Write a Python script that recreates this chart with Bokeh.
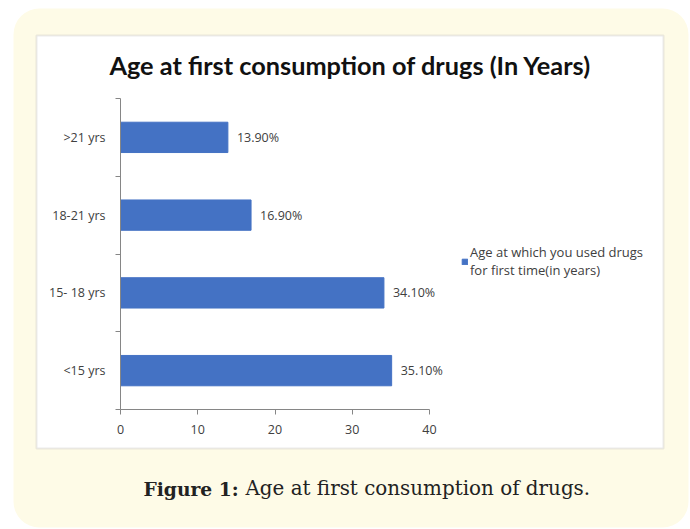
from bokeh.plotting import figure
from bokeh.models import (ColumnDataSource, FixedTicker, Label, BoxAnnotation,
                          Legend, LegendItem, LabelSet)
from bokeh.core.properties import value
from bokeh.embed import file_html
from bokeh.resources import INLINE

# Age groups (bottom to top) and the share of respondents in each
age_groups = ["<15 yrs", "15- 18 yrs", "18-21 yrs", ">21 yrs"]
percent = [35.1, 34.1, 16.9, 13.9]
x_ticks = [0, 10, 20, 30, 40]
series_name = "Age at which you used drugs\nfor first time(in years)"
title_text = "Age at first consumption of drugs (In Years)"
caption_bold = "Figure 1:"
caption_text = "Age at first consumption of drugs."

W, H = 690, 529
# pixel positions of the value axis (0..40) and the category axis (0..4)
X0_PX, X40_PX = 120, 429
Y0_PX, Y4_PX = 409, 98
ppx = (X40_PX - X0_PX) / 40.0
ppy = (Y0_PX - Y4_PX) / len(age_groups)

pos = [i + 0.5 for i in range(len(age_groups))]
src = ColumnDataSource(dict(
    y=pos, v=percent, lab=[f"{v:.2f}%" for v in percent]))

# the plotting frame covers the whole canvas; axes are pinned at 0
p = figure(width=W, height=H, output_backend="svg", toolbar_location=None,
           x_range=(-X0_PX / ppx, (W - X0_PX) / ppx),
           y_range=(-(H - Y0_PX) / ppy, Y0_PX / ppy),
           min_border=0)
p.border_fill_color = "white"
p.background_fill_color = "white"
p.outline_line_color = None
p.grid.visible = False


def sx(X):
    return X


def sy(Y):
    return H - Y


# cream page panel and white chart box
p.add_layout(BoxAnnotation(left=sx(13), right=sx(688), top=sy(8), bottom=sy(527),
                           left_units="screen", right_units="screen",
                           top_units="screen", bottom_units="screen",
                           fill_color="#fefbe7", fill_alpha=1, line_color=None,
                           border_radius=26, level="underlay"))
p.add_layout(BoxAnnotation(left=sx(36), right=sx(663), top=sy(35), bottom=sy(448),
                           left_units="screen", right_units="screen",
                           top_units="screen", bottom_units="screen",
                           fill_color="white", fill_alpha=1, line_color="#b8b8b8",
                           line_width=2, level="underlay"))

bars = p.hbar(y="y", right="v", left=0, height=0.39, source=src,
              fill_color="#4472c4", line_color="#4472c4")

p.add_layout(LabelSet(x="v", y="y", text="lab", source=src, x_offset=9,
                      text_baseline="middle", text_font=value("Open Sans"),
                      text_font_size="12.5px", text_color="#404040"))

# axes
ax = p.xaxis[0]
ax.fixed_location = 0
ax.bounds = (0, 40)
ax.ticker = FixedTicker(ticks=x_ticks)
ax.axis_line_color = "#868686"
ax.major_tick_line_color = "#868686"
ax.major_tick_out = 5
ax.major_tick_in = 0
ax.minor_tick_line_color = None
ax.major_label_text_font = "Open Sans"
ax.major_label_text_font_size = "12.5px"
ax.major_label_text_color = "#404040"
ax.major_label_standoff = 10

ay = p.yaxis[0]
ay.fixed_location = 0
ay.bounds = (0, len(age_groups))
ay.ticker = FixedTicker(ticks=pos, minor_ticks=list(range(len(age_groups) + 1)))
ay.major_label_overrides = {v: g for v, g in zip(pos, age_groups)}
ay.axis_line_color = "#868686"
ay.major_tick_line_color = None
ay.major_tick_out = 0
ay.minor_tick_line_color = "#868686"
ay.minor_tick_out = 5
ay.minor_tick_in = 0
ay.major_label_text_font = "Open Sans"
ay.major_label_text_font_size = "12.5px"
ay.major_label_text_color = "#404040"
ay.major_label_standoff = 10

# legend
legend = Legend(items=[LegendItem(label=series_name, renderers=[bars])],
                location=(sx(461), sy(279)), glyph_width=7, glyph_height=7,
                label_standoff=2, padding=0, margin=0, spacing=0,
                border_line_color=None, background_fill_alpha=0,
                label_text_font="Open Sans", label_text_font_size="13px",
                label_text_color="#404040", label_text_line_height=1.1)
p.add_layout(legend)

# title and caption
p.add_layout(Label(x=sx(350), y=sy(64), x_units="screen", y_units="screen",
                   text=title_text, text_align="center", text_baseline="middle",
                   text_font="Lato", text_font_style="bold",
                   text_font_size="25.3px", text_color="#111111"))
p.add_layout(Label(x=sx(143), y=sy(488), x_units="screen", y_units="screen",
                   text=caption_bold, text_baseline="middle",
                   text_font="DejaVu Serif", text_font_style="bold",
                   text_font_size="18.7px", text_color="#222222"))
p.add_layout(Label(x=sx(245), y=sy(488), x_units="screen", y_units="screen",
                   text=caption_text, text_baseline="middle",
                   text_font="DejaVu Serif",
                   text_font_size="19.9px", text_color="#222222"))

open("out.html", "w").write(file_html(p, INLINE))
